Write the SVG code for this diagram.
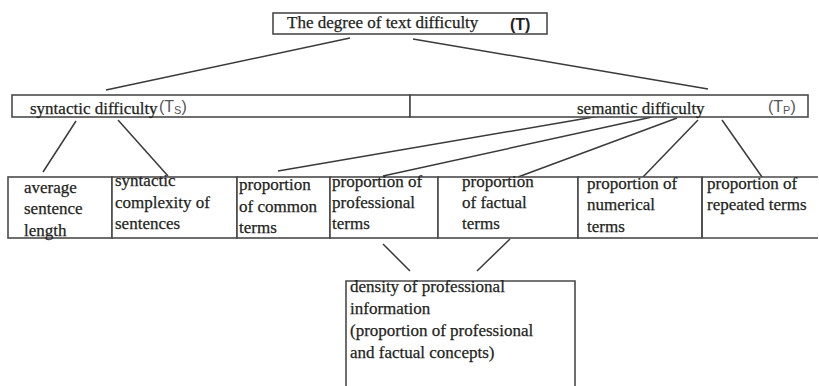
<svg xmlns="http://www.w3.org/2000/svg" width="819" height="386" viewBox="0 0 819 386">
<style>
.box{fill:#fff;stroke:#4a4a4a;stroke-width:1.6}
.ln{stroke:#3a3a3a;stroke-width:1.5;fill:none}
.t{font-family:"Liberation Serif","DejaVu Serif",serif;font-size:17px;fill:#231f1c;stroke:#231f1c;stroke-width:0.25}
.s{font-family:"Liberation Sans","DejaVu Sans",sans-serif;font-size:16px;fill:#555}
.b{font-family:"Liberation Sans","DejaVu Sans",sans-serif;font-size:16px;font-weight:bold;fill:#222}
</style>
<rect width="819" height="386" fill="#fff"/>
<g id="connectors">
<line class="ln" x1="350" y1="38" x2="106" y2="90"/>
<line class="ln" x1="413" y1="39" x2="708" y2="89"/>
<line class="ln" x1="76" y1="121" x2="43" y2="172"/>
<line class="ln" x1="118" y1="120" x2="168" y2="176"/>
<line class="ln" x1="617" y1="113" x2="278" y2="171"/>
<line class="ln" x1="652" y1="117" x2="383" y2="176"/>
<line class="ln" x1="677" y1="118" x2="518" y2="177"/>
<line class="ln" x1="698" y1="120" x2="643" y2="177"/>
<line class="ln" x1="722" y1="120" x2="762" y2="177"/>
<line class="ln" x1="383" y1="244" x2="410" y2="271"/>
<line class="ln" x1="510" y1="239" x2="477" y2="271"/>
</g>
<g id="T">
<rect class="box" x="273" y="13" width="274" height="21"/>
<text class="t" x="287" y="28">The degree of text difficulty</text>
<text class="b" x="510" y="30">(T)</text>
</g>
<g id="Ts">
<rect class="box" x="12" y="95" width="398" height="22"/>
<text class="t" x="30" y="114">syntactic difficulty</text>
<text class="s" x="159" y="112">(T<tspan font-size="11" dy="2">S</tspan><tspan dy="-2">)</tspan></text>
</g>
<g id="Tp">
<rect class="box" x="410" y="95" width="398" height="22"/>
<text class="t" x="577" y="114">semantic difficulty</text>
<text class="s" x="768" y="112">(T<tspan font-size="11" dy="2">P</tspan><tspan dy="-2">)</tspan></text>
</g>
<g id="avg">
<rect class="box" x="8" y="177" width="104" height="61"/>
<text class="t" x="24" y="193">average</text>
<text class="t" x="24" y="214">sentence</text>
<text class="t" x="24" y="236">length</text>
</g>
<g id="synt">
<rect class="box" x="112" y="177" width="125" height="61"/>
<text class="t" x="115" y="186">syntactic</text>
<text class="t" x="115" y="208">complexity of</text>
<text class="t" x="115" y="229">sentences</text>
</g>
<g id="common">
<rect class="box" x="237" y="177" width="93" height="61"/>
<text class="t" x="239" y="190">proportion</text>
<text class="t" x="239" y="212">of common</text>
<text class="t" x="239" y="233">terms</text>
</g>
<g id="prof">
<rect class="box" x="330" y="177" width="108" height="61"/>
<text class="t" x="332" y="187">proportion of</text>
<text class="t" x="332" y="208">professional</text>
<text class="t" x="332" y="229">terms</text>
</g>
<g id="fact">
<rect class="box" x="438" y="177" width="140" height="61"/>
<text class="t" x="462" y="187">proportion</text>
<text class="t" x="462" y="208">of factual</text>
<text class="t" x="462" y="229">terms</text>
</g>
<g id="num">
<rect class="box" x="578" y="177" width="124" height="61"/>
<text class="t" x="587" y="189">proportion of</text>
<text class="t" x="587" y="210">numerical</text>
<text class="t" x="587" y="232">terms</text>
</g>
<g id="rep">
<path d="M702 177 H818 M702 238 H818 M702 177 V238" style="fill:none;stroke:#4a4a4a;stroke-width:1.6"/>
<text class="t" x="707" y="189">proportion of</text>
<text class="t" x="707" y="210">repeated terms</text>
</g>
<g id="density">
<path d="M346 386 V281 H575 V386" style="fill:#fff;stroke:#4a4a4a;stroke-width:1.6"/>
<text class="t" x="350" y="292">density of professional</text>
<text class="t" x="350" y="314">information</text>
<text class="t" x="350" y="336">(proportion of professional</text>
<text class="t" x="350" y="358">and factual concepts)</text>
</g>
</svg>
